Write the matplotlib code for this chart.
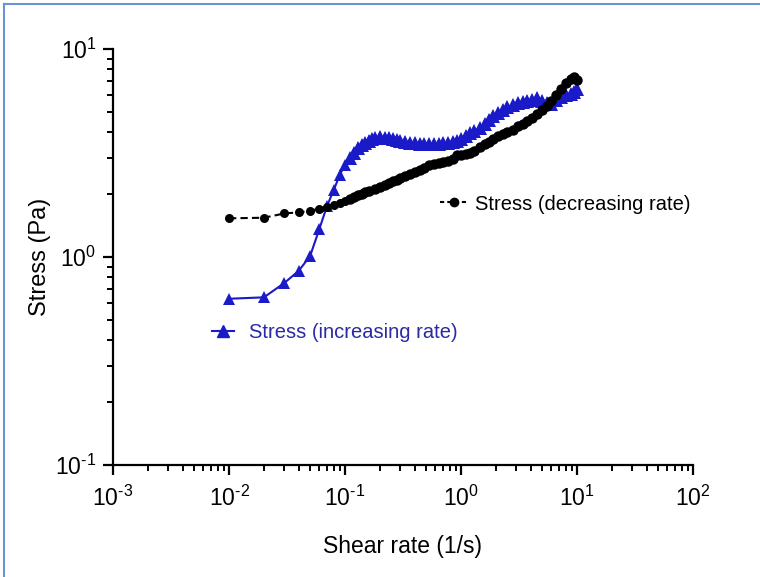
import matplotlib
matplotlib.use('Agg')
import matplotlib.pyplot as plt
from matplotlib.lines import Line2D
from matplotlib.ticker import LogLocator, NullFormatter, FuncFormatter
import numpy as np

plt.rcParams['font.family'] = ['Liberation Sans', 'DejaVu Sans']
plt.rcParams['mathtext.fontset'] = 'custom'
plt.rcParams['mathtext.rm'] = 'Liberation Sans'
plt.rcParams['mathtext.it'] = 'Liberation Sans'
plt.rcParams['mathtext.default'] = 'regular'

# shear rate sweep, increasing
rate_up = [0.01, 0.02, 0.03, 0.04, 0.05, 0.06, 0.07, 0.08, 0.09, 0.10,
           0.11, 0.12, 0.13, 0.14, 0.15, 0.16, 0.17, 0.18, 0.20, 0.22,
           0.24, 0.26, 0.28, 0.30, 0.33, 0.36, 0.40, 0.44, 0.48, 0.53,
           0.58, 0.64, 0.70, 0.77, 0.85, 0.93, 1.0, 1.1, 1.2, 1.3,
           1.45, 1.6, 1.75, 1.9, 2.1, 2.3, 2.5, 2.8, 3.1, 3.4,
           3.7, 4.1, 4.5, 5.0, 5.5, 6.0, 6.6, 7.3, 8.0, 8.8, 9.5, 10.0]
stress_up = [0.63, 0.64, 0.75, 0.86, 1.01, 1.36, 1.76, 2.10, 2.48, 2.77,
             2.99, 3.18, 3.33, 3.45, 3.55, 3.63, 3.68, 3.73, 3.78, 3.75,
             3.72, 3.68, 3.64, 3.60, 3.57, 3.54, 3.52, 3.50, 3.49, 3.48,
             3.49, 3.50, 3.52, 3.53, 3.57, 3.62, 3.70, 3.82, 3.95, 4.05,
             4.15, 4.35, 4.55, 4.75, 4.95, 5.10, 5.25, 5.40, 5.50, 5.55,
             5.62, 5.70, 5.80, 5.65, 5.50, 5.45, 5.70, 5.90, 6.00, 6.10, 6.20, 6.40]

# shear rate sweep, decreasing
rate_down = [0.01, 0.02, 0.03, 0.04, 0.05, 0.06, 0.07, 0.08, 0.09, 0.10,
             0.11, 0.12, 0.13, 0.14, 0.15, 0.16, 0.18, 0.20, 0.22, 0.24,
             0.26, 0.28, 0.30, 0.33, 0.36, 0.40, 0.44, 0.48, 0.53, 0.58,
             0.64, 0.70, 0.77, 0.85, 0.93, 1.0, 1.1, 1.2, 1.3, 1.45,
             1.6, 1.75, 1.9, 2.1, 2.3, 2.5, 2.8, 3.1, 3.4, 3.7,
             4.1, 4.5, 5.0, 5.5, 6.0, 6.6, 7.3, 8.0, 8.8, 9.5, 10.0]
stress_down = [1.535, 1.545, 1.62, 1.64, 1.665, 1.71, 1.745, 1.78, 1.81, 1.86,
               1.90, 1.95, 1.98, 2.02, 2.05, 2.08, 2.13, 2.18, 2.23, 2.28,
               2.32, 2.35, 2.39, 2.45, 2.50, 2.55, 2.62, 2.68, 2.76, 2.80,
               2.84, 2.86, 2.88, 2.95, 3.10, 3.08, 3.12, 3.16, 3.25, 3.38,
               3.48, 3.58, 3.68, 3.80, 3.90, 3.98, 4.08, 4.25, 4.38, 4.50,
               4.68, 4.88, 5.10, 5.30, 5.60, 6.00, 6.40, 6.85, 7.20, 7.35, 7.10]

blue = '#1a1ac8'
blue_txt = '#2a2aa6'


def sci_label(v, pos):
    e = int(round(np.log10(v)))
    exp = str(e).replace('-', '\u2010')
    return '$10^{%s}$' % exp


fig = plt.figure(figsize=(7.6, 5.77), dpi=100)
ax = fig.add_axes([0.1487, 0.1941, 0.7631, 0.7209])

ax.plot(rate_up, stress_up, '-^', color=blue, markersize=8, linewidth=1.5,
        markeredgewidth=0, zorder=2)
ax.plot(rate_up[10:], stress_up[10:], '^', color=blue, markersize=9.5,
        markeredgewidth=0, zorder=2)
ax.plot(rate_down, stress_down, '--o', color='black', markersize=6.5, linewidth=1.5,
        markeredgewidth=0, dashes=(3.5, 2), zorder=3)
ax.plot(rate_down[10:], stress_down[10:], 'o', color='black', markersize=7.5,
        markeredgewidth=0, zorder=3)

ax.set_xscale('log')
ax.set_yscale('log')
ax.set_xlim(1e-3, 1e2)
ax.set_ylim(1e-1, 1e1)
ax.xaxis.set_minor_locator(LogLocator(base=10, subs=range(2, 10)))
ax.yaxis.set_minor_locator(LogLocator(base=10, subs=range(2, 10)))
ax.xaxis.set_minor_formatter(NullFormatter())
ax.yaxis.set_minor_formatter(NullFormatter())
ax.xaxis.set_major_formatter(FuncFormatter(sci_label))
ax.yaxis.set_major_formatter(FuncFormatter(sci_label))

for s in ['top', 'right']:
    ax.spines[s].set_visible(False)
for s in ['left', 'bottom']:
    ax.spines[s].set_linewidth(1.6)
ax.tick_params(which='major', direction='out', length=7, width=1.6, labelsize=16.5)
ax.tick_params(axis='x', which='major', pad=8)
ax.tick_params(axis='y', which='major', pad=5)
ax.tick_params(which='minor', direction='out', length=4, width=1.4)

ax.set_xlabel('Shear rate (1/s)', fontsize=16.5, labelpad=17)
ax.set_ylabel('Stress (Pa)', fontsize=17, labelpad=3)

h_down = Line2D([], [], color='black', linestyle='--', dashes=(2, 1.5), marker='o',
                markersize=6, linewidth=1.5)
h_up = Line2D([], [], color=blue, linestyle='-', marker='^', markersize=8, linewidth=1.5)
leg1 = fig.legend([h_down], ['Stress (decreasing rate)'], loc='center left',
                  bbox_to_anchor=(440 / 760, 1 - 204 / 577), frameon=False,
                  fontsize=14.5, handlelength=1.4, handletextpad=0.35,
                  borderpad=0, borderaxespad=0)
leg2 = fig.legend([h_up], ['Stress (increasing rate)'], loc='center left',
                  bbox_to_anchor=(212 / 760, 1 - 333 / 577), frameon=False,
                  fontsize=14.5, handlelength=1.1, handletextpad=0.75,
                  borderpad=0, borderaxespad=0)
for t in leg2.get_texts():
    t.set_color(blue_txt)

# border around the figure
fig.add_artist(Line2D([4 / 760, 1], [1 - 4 / 577, 1 - 4 / 577], color='#6b93d0', linewidth=1.5))
fig.add_artist(Line2D([4 / 760, 4 / 760], [0, 1 - 4 / 577], color='#6b93d0', linewidth=1.5))

plt.savefig('out.png', dpi=100)
